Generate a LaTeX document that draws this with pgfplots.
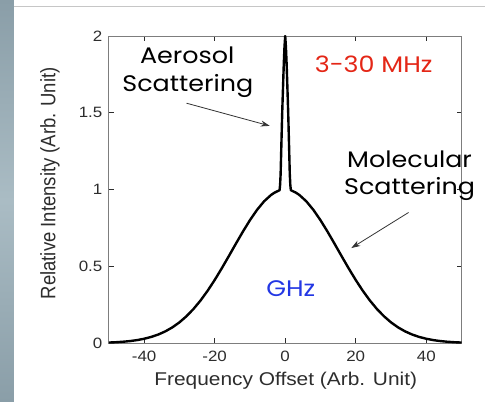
\documentclass[border=0pt]{standalone}
\usepackage{graphicx}
\usepackage{pgfplots}
\pgfplotsset{compat=1.18}
\usepackage{fontspec}
\setmainfont{Liberation Sans}
\newfontfamily\comic{Poppins}
\usetikzlibrary{arrows.meta}
\definecolor{stripA}{RGB}{138,158,168}
\definecolor{stripB}{RGB}{170,188,196}
\definecolor{frame}{RGB}{125,125,125}
\definecolor{lbl}{RGB}{45,45,45}
\definecolor{myred}{RGB}{228,38,22}
\definecolor{myblue}{RGB}{35,55,228}
\newcommand{\sx}[1]{\scalebox{1.13}[1]{#1}}
\newcommand{\cs}{\comic\fontsize{22.5}{22.5}\selectfont}
\pgfplotstableread{
x y
-50 0.0039
-48 0.0060
-46 0.0091
-44 0.0135
-42 0.0198
-40 0.0286
-38 0.0404
-36 0.0561
-34 0.0766
-32 0.1027
-30 0.1353
-28 0.1752
-26 0.2226
-24 0.2780
-22 0.3411
-20 0.4111
-18 0.4868
-16 0.5662
-14 0.6469
-12 0.7261
-10 0.8007
-8 0.8674
-6 0.9231
-4 0.9651
-3 0.9802
-2 0.9912
-1.6 0.9960
-1.45 1.03
-1.3 1.10
-1.1 1.28
-0.85 1.50
-0.6 1.68
-0.4 1.82
-0.2 1.93
0 2.0
0.2 1.93
0.4 1.82
0.6 1.68
0.85 1.50
1.1 1.28
1.3 1.10
1.45 1.03
1.6 0.9960
2 0.9912
3 0.9802
4 0.9651
6 0.9231
8 0.8674
10 0.8007
12 0.7261
14 0.6469
16 0.5662
18 0.4868
20 0.4111
22 0.3411
24 0.2780
26 0.2226
28 0.1752
30 0.1353
32 0.1027
34 0.0766
36 0.0561
38 0.0404
40 0.0286
42 0.0198
44 0.0135
46 0.0091
48 0.0060
50 0.0039
}\spectrum
\begin{document}
\begin{tikzpicture}[x=1pt,y=1pt]
\fill[white] (0,0) rectangle (485,402);
\shade[top color=stripA, bottom color=stripA, middle color=stripB] (0,0) rectangle (14,402);
\draw[color=gray!45, line width=1pt] (14,395.3) -- (485,395.3);
\begin{axis}[
  at={(109pt,58.5pt)}, anchor=south west,
  scale only axis, width=353pt, height=307.5pt,
  xmin=-50, xmax=50, ymin=0, ymax=2,
  xtick={-40,-20,0,20,40},
  ytick={0,0.5,1,1.5,2},
  tick align=inside,
  major tick length=5pt,
  axis line style={draw=frame, line width=0.9pt},
  tick style={draw=lbl, line width=0.8pt},
  /pgf/number format/assume math mode=true,
  ticklabel style={font=\fontsize{15}{15}\selectfont, text=lbl},
  xticklabel={\sx{\pgfmathprintnumber{\tick}}},
  yticklabel={\sx{\pgfmathprintnumber{\tick}}},
  xticklabel style={yshift=-4pt},
  yticklabel style={xshift=-3pt},
]
\addplot[black, line width=2.4pt, line join=round] table {\spectrum};
\end{axis}
% axis titles
\node[text=lbl, font=\fontsize{18.5}{18.5}\selectfont, anchor=center] at (286,21) {\sx{Frequency Offset (Arb. Unit)}};
\node[text=lbl, font=\fontsize{18.5}{18.5}\selectfont, anchor=center, rotate=90] at (50,218.5) {\scalebox{1}[1.13]{Relative Intensity (Arb. Unit)}};
% annotations
\node[font=\cs, anchor=base] at (187.5,338) {\sx{Aerosol}};
\node[font=\cs, anchor=base] at (188,310.3) {\sx{Scattering}};
\node[font=\cs, anchor=base, text=myred] at (374,329.3) {\sx{3-30 MHz}};
\node[font=\cs, anchor=base] at (410,234.7) {\sx{Molecular}};
\node[font=\cs, anchor=base] at (410,207) {\sx{Scattering}};
\node[font=\cs, anchor=base, text=myblue] at (291,104.7) {\sx{GHz}};
\draw[color=black!80, line width=0.8pt, -{Stealth[length=9pt,width=6pt]}] (186.7,298.7) -- (270,276);
\draw[color=black!80, line width=0.8pt, -{Stealth[length=9pt,width=6pt]}] (409,189.3) -- (351.7,153.7);
\end{tikzpicture}
\end{document}
